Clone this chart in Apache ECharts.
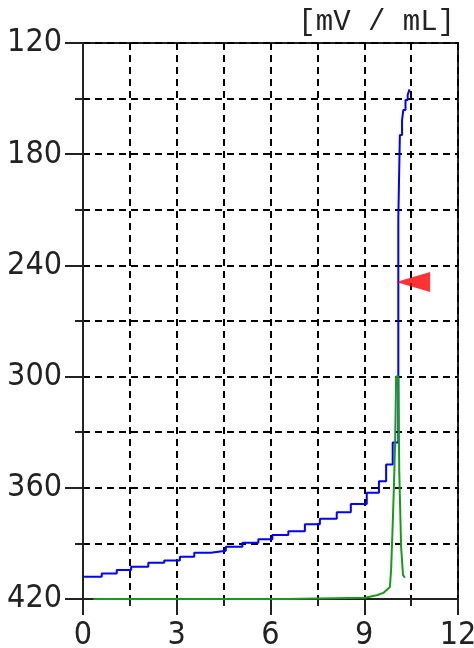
<!DOCTYPE html>
<html>
<head>
<meta charset="utf-8">
<script src="https://cdn.jsdelivr.net/npm/echarts@6/dist/echarts.min.js"></script>
<style>
html,body{margin:0;padding:0;background:#fff;overflow:hidden;width:474px;height:648px;}
#chart{width:474px;height:648px;position:absolute;left:0;top:0;}
</style>
</head>
<body>
<div id="chart"></div>
<script>
// Titration curve (potential, mV) vs. volume (mL)
const potentialX = [0, 0.6, 1.08, 1.54, 2.09, 2.6, 3.1, 3.56, 4.09, 4.57, 5.1, 5.61, 6.06, 6.57, 7.1, 7.58, 8.12, 8.57, 9.08, 9.47, 9.7, 9.91, 10.09, 10.14, 10.21, 10.25, 10.32, 10.39, 10.45];
const potentialY = [408, 406.2, 404.4, 402.6, 400.4, 399.2, 397.2, 395, 394, 391.8, 389.7, 387.7, 385.5, 383.4, 379.7, 376.7, 373.2, 368.8, 362.7, 356.4, 347.4, 335.5, 214.4, 169.6, 161.5, 156.2, 150.8, 148, 145];
// Derivative curve (drawn on the same scale)
const derivX = [0.33, 6.53, 6.53, 9.02, 9.4, 9.61, 9.82, 9.86, 9.91, 9.95, 9.99, 10.02, 10.09, 10.12, 10.17, 10.18, 10.23, 10.24, 10.3];
const derivY = [420, 420, 419.3, 419.3, 418, 416.7, 413.5, 404, 380, 359, 334, 300, 300, 351, 352, 392, 393, 407, 408.5];
// End point marker
const endPointX = [10.02];
const endPointY = [249];
// Axis settings
const xMin = 0, xMax = 12, xStep = 3;
const yMin = 120, yMax = 420, yStep = 60;
const unitLabel = '[mV / mL]';

const zip = (a, b) => a.map((v, i) => [v, b[i]]);
const labelFont = "'Liberation Sans Narrow', 'DejaVu Sans Condensed', 'Liberation Sans', sans-serif";
const dash = { type: [7, 5], color: '#000', width: 2 };
const axisCol = '#222';

const chart = echarts.init(document.getElementById('chart'), null, { renderer: 'canvas', width: 474, height: 648 });
chart.setOption({
  animation: false,
  backgroundColor: '#fff',
  title: {
    text: unitLabel,
    right: 19, top: 8, padding: 0,
    textStyle: { fontFamily: "'Liberation Mono', 'DejaVu Sans Mono', monospace", fontSize: 29, fontWeight: 'normal', color: axisCol }
  },
  grid: {
    left: 83, right: 16, top: 43, bottom: 49,
    containLabel: false, outerBoundsMode: 'none',
    show: true, borderColor: axisCol, borderWidth: 2, backgroundColor: 'transparent'
  },
  xAxis: {
    type: 'value', min: xMin, max: xMax, interval: xStep,
    axisLine: { show: true, lineStyle: { color: axisCol, width: 2 } },
    axisTick: { show: true, length: 16, lineStyle: { color: axisCol, width: 2 } },
    minorTick: { show: true, splitNumber: 2, length: 7, lineStyle: { color: axisCol, width: 2 } },
    splitLine: { show: true, lineStyle: dash },
    minorSplitLine: { show: true, lineStyle: dash },
    axisLabel: { fontSize: 32, color: axisCol, margin: 21, fontFamily: labelFont }
  },
  yAxis: {
    type: 'value', inverse: true, min: yMin, max: yMax, interval: yStep,
    axisLine: { show: true, lineStyle: { color: axisCol, width: 2 } },
    axisTick: { show: true, length: 18, lineStyle: { color: axisCol, width: 2 } },
    minorTick: { show: true, splitNumber: 2, length: 8, lineStyle: { color: axisCol, width: 2 } },
    splitLine: { show: true, lineStyle: dash },
    minorSplitLine: { show: true, lineStyle: dash },
    axisLabel: { fontSize: 32, color: axisCol, margin: 21, fontFamily: labelFont }
  },
  series: [
    {
      type: 'line', step: 'end', showSymbol: false, symbol: 'none',
      lineStyle: { color: '#0000ff', width: 2 },
      data: zip(potentialX, potentialY), z: 3
    },
    {
      type: 'line', showSymbol: false, symbol: 'none',
      lineStyle: { color: '#1a9a1a', width: 2 },
      data: zip(derivX, derivY), z: 4
    },
    {
      type: 'scatter', symbol: 'triangle', symbolRotate: 90,
      symbolSize: [20, 34], symbolOffset: [17, 0],
      itemStyle: { color: '#ff0000' },
      data: zip(endPointX, endPointY), z: 5
    }
  ]
});
</script>
</body>
</html>
